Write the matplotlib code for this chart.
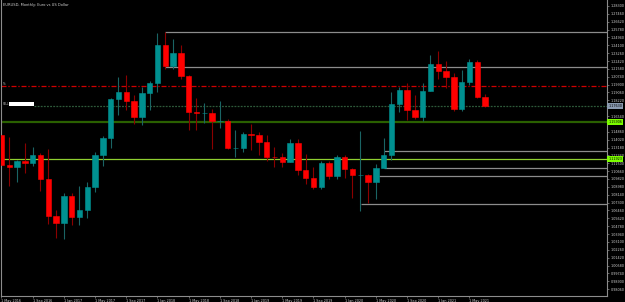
import matplotlib
matplotlib.use("Agg")
import matplotlib.pyplot as plt
import numpy as np

# EURUSD monthly, May 2016 .. Jul 2021
opens = [1.1452, 1.1131, 1.1105, 1.1174, 1.1157, 1.1240, 1.0980, 1.0589,
         1.0517, 1.0798, 1.0575, 1.0652, 1.0894, 1.1243, 1.1425, 1.1838, 1.1907, 1.1813, 1.1645, 1.1905,
         1.2004, 1.2413, 1.2194, 1.2324, 1.2078, 1.1693, 1.1684, 1.1690, 1.1603, 1.1604, 1.1312, 1.1316,
         1.1467, 1.1447, 1.1372, 1.1217, 1.1216, 1.1167, 1.1371, 1.1076, 1.0988, 1.0899, 1.1152, 1.1016,
         1.1213, 1.1093, 1.1026, 1.1029, 1.0955, 1.1100, 1.1233, 1.1778, 1.1937, 1.1721, 1.1647, 1.1926,
         1.2214, 1.2136, 1.2074, 1.1730, 1.2020, 1.2228, 1.1858]
highs = [1.1616, 1.1428, 1.1186, 1.1366, 1.1327, 1.1255, 1.1300, 1.0652,
         1.0829, 1.0829, 1.0906, 1.0951, 1.1268, 1.1445, 1.1846, 1.2070, 1.2092, 1.1880, 1.1961, 1.2024,
         1.2537, 1.2555, 1.2476, 1.2414, 1.2097, 1.1852, 1.1791, 1.1733, 1.1815, 1.1622, 1.1500, 1.1487,
         1.1570, 1.1489, 1.1448, 1.1324, 1.1264, 1.1412, 1.1412, 1.1249, 1.1110, 1.1179, 1.1175, 1.1239,
         1.1239, 1.1096, 1.1496, 1.1040, 1.1147, 1.1422, 1.1909, 1.1966, 1.2011, 1.1881, 1.2004, 1.2310,
         1.2349, 1.2243, 1.2113, 1.2150, 1.2266, 1.2254, 1.1895]
lows = [1.1098, 1.0912, 1.0952, 1.1045, 1.1123, 1.0852, 1.0505, 1.0352,
        1.0340, 1.0494, 1.0494, 1.0569, 1.0839, 1.1118, 1.1312, 1.1662, 1.1717, 1.1574, 1.1554, 1.1718,
        1.1915, 1.2154, 1.2155, 1.2055, 1.1510, 1.1508, 1.1575, 1.1301, 1.1526, 1.1302, 1.1216, 1.1267,
        1.1289, 1.1234, 1.1176, 1.1111, 1.1106, 1.1166, 1.1027, 1.0926, 1.0879, 1.0879, 1.0981, 1.0981,
        1.0992, 1.0778, 1.0636, 1.0727, 1.0767, 1.1166, 1.1185, 1.1696, 1.1612, 1.1622, 1.1603, 1.1925,
        1.2054, 1.1952, 1.1704, 1.1704, 1.1986, 1.1844, 1.1755]
closes = [1.1131, 1.1105, 1.1174, 1.1157, 1.1240, 1.0980, 1.0589, 1.0517,
          1.0798, 1.0575, 1.0652, 1.0894, 1.1243, 1.1425, 1.1838, 1.1907, 1.1813, 1.1645, 1.1905, 1.2004,
          1.2413, 1.2194, 1.2324, 1.2078, 1.1693, 1.1684, 1.1690, 1.1603, 1.1604, 1.1312, 1.1316, 1.1467,
          1.1447, 1.1372, 1.1217, 1.1216, 1.1167, 1.1371, 1.1076, 1.0988, 1.0899, 1.1152, 1.1016, 1.1213,
          1.1093, 1.1026, 1.1029, 1.0955, 1.1100, 1.1233, 1.1778, 1.1937, 1.1721, 1.1647, 1.1926, 1.2214,
          1.2136, 1.2074, 1.1730, 1.2020, 1.2228, 1.1858, 1.1763]

x_tick_idx = [0, 4, 8, 12, 16, 20, 24, 28, 32, 36, 40, 44, 48, 52, 56, 60]
x_tick_labels = ["1 May 2016", "1 Sep 2016", "1 Jan 2017", "1 May 2017", "1 Sep 2017", "1 Jan 2018",
                 "1 May 2018", "1 Sep 2018", "1 Jan 2019", "1 May 2019", "1 Sep 2019", "1 Jan 2020",
                 "1 May 2020", "1 Sep 2020", "1 Jan 2021", "1 May 2021"]
# price scale labels (those hidden behind the price boxes are left out)
y_ticks = [1.28300, 1.27460, 1.26620, 1.25780, 1.24940, 1.24100, 1.23260, 1.22420, 1.21580, 1.20740,
           1.19900, 1.19060, 1.18220, 1.16540, 1.14860, 1.14020, 1.13180, 1.12340,
           1.11500, 1.10660, 1.09820, 1.08980, 1.08140, 1.07300, 1.06460, 1.05620, 1.04780, 1.03940,
           1.03100, 1.02260, 1.01420, 1.00580, 0.99740, 0.98900, 0.98060]

# horizontal levels: (price, start index)
gray_levels = [(1.2555, 20.9), (1.2175, 20.9), (1.1278, 49.0), (1.1096, 49.0), (1.1011, 48.4), (1.0712, 46.1)]
red_level = 1.1972
dark_green_level = 1.15906
light_green_level = 1.11923
bid = closes[-1]

BULL = "#009090"
BEAR = "#ff0000"
BULL_WICK = "#1a6464"
BEAR_WICK = "#8b0000"

fig = plt.figure(figsize=(6.25, 3.02), dpi=100, facecolor="black")
W, H = 625, 302
ax = fig.add_axes([1 / W, 6 / H, 606 / W, 296 / H])
ax.set_facecolor("black")
ax.set_xlim(-0.064, 77.63)
ax.set_ylim(0.97323, 1.28936)

n = len(opens)
idx = np.arange(n)
o = np.array(opens); c = np.array(closes); h = np.array(highs); l = np.array(lows)
up = c >= o
ax.vlines(idx[up], l[up], h[up], color=BULL_WICK, lw=0.8, zorder=2)
ax.vlines(idx[~up], l[~up], h[~up], color=BEAR_WICK, lw=0.8, zorder=2)
bottoms = np.minimum(o, c)
heights = np.abs(c - o)
ax.bar(idx[up], heights[up], bottom=bottoms[up], width=0.68, color=BULL, edgecolor=BULL, lw=0.4, zorder=3)
ax.bar(idx[~up], heights[~up], bottom=bottoms[~up], width=0.68, color=BEAR, edgecolor=BEAR, lw=0.4, zorder=3)

xr = ax.get_xlim()[1]
for price, start in gray_levels:
    ax.hlines(price, start, xr, color="#8c8c8c", lw=0.9, zorder=1)
ax.axhline(red_level, color="#d00000", lw=0.9, linestyle=(0, (4, 1.5, 1, 1.5)), zorder=1)
ax.axhline(dark_green_level, color="#2a6000", lw=1.6, zorder=1)
ax.axhline(light_green_level, color="#8fcf30", lw=0.9, zorder=1)
ax.hlines(bid, 4.2, xr, color="#2e5a3a", lw=0.9, linestyle=(0, (1.5, 1)), zorder=1)

# left annotations
ax.text(0.003, 0.715, "%", transform=ax.transAxes, fontsize=2.2, color="#c0c0c0", va="center", ha="left")
ax.text(0.003, 0.648, "SELL", transform=ax.transAxes, fontsize=2.0, color="#c0c0c0", va="center", ha="left")
ax.add_patch(plt.Rectangle((0.0132, 0.641), 0.0413, 0.0145, transform=ax.transAxes,
                           facecolor="white", edgecolor="none", zorder=5))

# spines
for s in ["left", "bottom", "right"]:
    ax.spines[s].set_color("#8c8c8c")
    ax.spines[s].set_linewidth(0.8)
ax.spines["top"].set_visible(False)

ax.set_xticks(x_tick_idx)
ax.set_xticklabels(x_tick_labels, fontsize=2.4, color="#d0d0d0", ha="left")
ax.tick_params(axis="x", length=1.5, width=0.5, color="#8c8c8c", pad=0.8)
ax.yaxis.tick_right()
ax.set_yticks(y_ticks)
ax.set_yticklabels([f"{v:.5f}" for v in y_ticks], fontsize=2.4, color="#d0d0d0")
ax.tick_params(axis="y", length=1.5, width=0.5, color="#8c8c8c", pad=1.0)

# right axis price labels
def price_label(price, bg):
    ax.text(1.002, price, f"{price:.5f}", transform=ax.get_yaxis_transform(), fontsize=2.4,
            color="black", va="center", ha="left", zorder=6,
            bbox=dict(boxstyle="square,pad=0.25", facecolor=bg, edgecolor="none"), clip_on=False)

price_label(bid, "#8a9ab0")
price_label(dark_green_level, "#7cfc00")
price_label(light_green_level, "#7cfc00")

fig.text(3 / W, 1 - 5 / H, "EURUSD, Monthly: Euro vs US Dollar", fontsize=2.6, color="#d0d0d0",
         va="center", ha="left")

fig.savefig("out.png", dpi=100, facecolor="black")
